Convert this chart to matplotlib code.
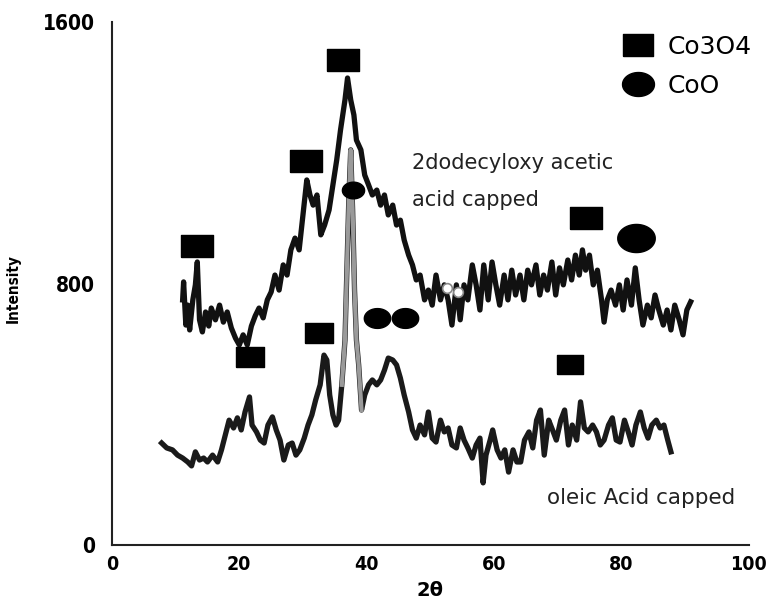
import numpy as np
import matplotlib
matplotlib.use("Agg")
from matplotlib import pyplot as plt
from matplotlib.lines import Line2D

# 2dodecyloxy acetic acid capped pattern (2theta, intensity)
top_trace = [
    (11.1, 750), (11.25, 805), (11.6, 673), (11.9, 734), (12.2, 658), (12.7, 750),
    (13.1, 796), (13.4, 866), (13.75, 689), (14.2, 652), (14.7, 713), (15.2, 670),
    (15.6, 725), (16.25, 689), (16.9, 734), (17.5, 682), (18.1, 713), (18.75, 664),
    (19.4, 633), (20.0, 612), (20.6, 643), (21.25, 612), (21.9, 670), (22.5, 701),
    (23.1, 725), (23.75, 695), (24.4, 750), (25.0, 774), (25.6, 826), (26.25, 780),
    (26.9, 857), (27.5, 826), (28.1, 903), (28.75, 939), (29.4, 903), (30.0, 1010),
    (30.6, 1117), (31.1, 1071), (31.6, 1040), (32.2, 1071), (32.8, 949), (33.4, 979),
    (34.1, 1025), (34.7, 1102), (35.3, 1178), (35.9, 1270), (36.6, 1362), (37.0, 1429),
    (37.5, 1362), (38.0, 1316), (38.4, 1239), (39.1, 1209), (39.7, 1132), (40.3, 1102),
    (40.9, 1071), (41.6, 1086), (42.2, 1040), (42.8, 1071), (43.4, 1010), (44.1, 1040),
    (44.7, 979), (45.3, 994), (45.9, 933), (46.6, 887), (47.2, 857), (47.8, 811),
    (48.4, 826), (49.1, 750), (49.7, 780), (50.3, 734), (50.9, 826), (51.6, 750),
    (52.2, 796), (52.8, 750), (53.4, 673), (54.1, 796), (54.7, 689), (55.3, 796),
    (55.9, 750), (56.6, 857), (57.2, 796), (57.8, 719), (58.4, 857), (59.1, 750),
    (59.7, 866), (60.3, 796), (60.9, 734), (61.6, 826), (62.2, 750), (62.8, 841),
    (63.4, 765), (64.1, 826), (64.7, 750), (65.3, 841), (65.9, 796), (66.6, 857),
    (67.2, 765), (67.8, 826), (68.4, 780), (69.1, 866), (69.7, 765), (70.3, 848),
    (70.9, 796), (71.6, 872), (72.2, 811), (72.8, 887), (73.4, 826), (73.9, 903),
    (74.4, 841), (75.0, 887), (75.6, 796), (76.25, 841), (76.9, 750), (77.3, 682),
    (77.8, 750), (78.4, 780), (79.1, 734), (79.7, 796), (80.3, 719), (80.9, 811),
    (81.6, 734), (82.2, 848), (82.8, 750), (83.4, 673), (84.1, 734), (84.7, 695),
    (85.3, 765), (85.9, 719), (86.6, 673), (87.2, 719), (87.8, 658), (88.4, 734),
    (89.1, 689), (89.7, 643), (90.3, 719), (90.9, 744),
]

# oleic acid capped pattern (2theta, intensity)
bottom_trace = [
    (7.8, 312), (8.6, 297), (9.5, 291), (10.3, 275), (11.1, 266), (11.9, 254),
    (12.5, 242), (13.1, 285), (13.75, 260), (14.4, 266), (15.0, 254), (15.8, 275),
    (16.6, 254), (17.2, 291), (17.8, 337), (18.4, 382), (19.1, 358), (19.7, 389),
    (20.3, 352), (20.9, 407), (21.6, 453), (22.0, 367), (22.7, 346), (23.3, 321),
    (23.9, 312), (24.5, 367), (25.2, 392), (25.8, 352), (26.4, 321), (27.0, 260),
    (27.7, 306), (28.3, 312), (28.9, 275), (29.5, 291), (30.2, 327), (30.8, 367),
    (31.4, 398), (32.0, 444), (32.7, 490), (33.3, 581), (33.75, 566), (34.2, 459),
    (34.7, 398), (35.2, 367), (35.6, 382), (36.1, 490), (36.6, 627), (36.9, 841),
    (37.2, 1056), (37.5, 1209), (37.8, 1025), (38.1, 780), (38.4, 627), (38.75, 551),
    (39.2, 413), (39.7, 459), (40.3, 490), (40.9, 505), (41.6, 490), (42.2, 505),
    (42.8, 535), (43.4, 572), (44.1, 566), (44.7, 551), (45.3, 511), (45.9, 459),
    (46.6, 407), (47.2, 352), (47.8, 327), (48.4, 367), (49.1, 337), (49.7, 407),
    (50.3, 327), (50.9, 315), (51.6, 382), (52.2, 346), (52.8, 358), (53.4, 306),
    (54.1, 297), (54.7, 358), (55.3, 321), (55.9, 297), (56.6, 266), (57.2, 306),
    (57.8, 327), (58.3, 190), (58.75, 275), (59.4, 321), (59.8, 352), (60.5, 291),
    (61.1, 266), (61.7, 291), (62.3, 223), (63.0, 291), (63.6, 254), (64.2, 254),
    (64.8, 321), (65.5, 346), (66.1, 297), (66.7, 382), (67.3, 413), (67.9, 275),
    (68.6, 382), (69.2, 352), (69.8, 321), (70.5, 382), (71.1, 413), (71.7, 306),
    (72.3, 367), (73.0, 321), (73.6, 438), (74.2, 358), (74.8, 346), (75.5, 367),
    (76.1, 346), (76.7, 306), (77.3, 321), (78.0, 367), (78.6, 389), (79.2, 321),
    (79.8, 315), (80.5, 382), (81.1, 346), (81.7, 306), (82.3, 367), (83.0, 407),
    (83.6, 358), (84.2, 327), (84.8, 367), (85.5, 382), (86.1, 358), (86.7, 367),
    (87.3, 321), (87.8, 285),
]

# phase markers (2theta, intensity)
co3o4_x = [13.3, 36.25, 30.5, 74.4, 21.7, 32.5, 71.9]
co3o4_y = [915, 1484, 1175, 1001, 575, 649, 554]
coo_x = [37.8, 41.7, 46.1, 82.3]
coo_y = [1086, 695, 695, 939]
hollow_x = [52.7, 54.4]
hollow_y = [786, 774]

x_ticks = [0, 20, 40, 60, 80, 100]
y_ticks = [0, 800, 1600]

rect = [(-1, -0.72), (1, -0.72), (1, 0.72), (-1, 0.72), (-1, -0.72)]
t = np.linspace(0, 2 * np.pi, 60)
ell = np.column_stack([np.cos(t), 0.75 * np.sin(t)])

fig = plt.figure(figsize=(7.67, 6.01), dpi=100)
ax = fig.add_axes([0.146, 0.0932, 0.830, 0.870])

tx, ty = np.array(top_trace).T
bx, by = np.array(bottom_trace).T

ax.plot(tx, ty, color="#111111", lw=3.8, solid_joinstyle="round")
ax.plot(bx, by, color="#1a1a1a", lw=3.8, solid_joinstyle="round")
spike = (bx >= 36.1) & (bx <= 39.2)
ax.plot(bx[spike], by[spike], color="#9a9a9a", lw=3.0, solid_joinstyle="round")

sq_sizes = [23, 23, 23, 23, 20, 20, 19]
for x, y, s in zip(co3o4_x, co3o4_y, sq_sizes):
    ax.plot(x, y, marker=rect, ms=s, color="black", ls="none", zorder=4)
circ_sizes = [16, 19, 19, 27]
for x, y, s in zip(coo_x, coo_y, circ_sizes):
    ax.plot(x, y, marker=ell, ms=s, color="black", ls="none", zorder=4)
ax.plot(hollow_x, hollow_y, marker="o", ms=7, mfc="white", mec="#888888",
        mew=1.2, ls="none", zorder=5)

ax.text(47.2, 1169, "2dodecyloxy acetic", fontsize=15, va="center", color="#222222")
ax.text(47.2, 1056, "acid capped", fontsize=15, va="center", color="#222222")
ax.text(68.4, 144, "oleic Acid capped", fontsize=15.5, va="center", color="#222222")

handles = [
    Line2D([], [], marker=rect, ms=22, color="black", ls="none"),
    Line2D([], [], marker=ell, ms=23, color="black", ls="none"),
]
ax.legend(handles, ["Co3O4", "CoO"], loc="upper left", bbox_to_anchor=(0.781, 1.0),
          frameon=False, fontsize=18, borderpad=0, handlelength=1.3,
          handletextpad=0.55, labelspacing=0.6)

ax.set_xlim(0, 100)
ax.set_ylim(0, 1600)
ax.set_xticks(x_ticks)
ax.set_yticks(y_ticks)
for lab in ax.get_yticklabels():
    lab.set_fontweight("bold")
    lab.set_fontsize(15)
    lab.set_fontstretch("condensed")
for lab in ax.get_xticklabels():
    lab.set_fontweight("bold")
    lab.set_fontsize(14)
    lab.set_fontstretch("condensed")
ax.tick_params(axis="y", length=0, pad=12)
ax.tick_params(axis="x", length=0, pad=7)

ax.set_xlabel("2θ", fontsize=14, fontweight="bold")
ax.xaxis.set_label_coords(0.50, -0.068)
ax.set_ylabel("Intensity", fontsize=11, fontweight="bold")
ax.yaxis.label.set_fontstretch("condensed")
ax.yaxis.set_label_coords(-0.144, 0.49)

for side in ["top", "right"]:
    ax.spines[side].set_visible(False)
for side in ["left", "bottom"]:
    ax.spines[side].set_linewidth(1.5)
    ax.spines[side].set_color("#222222")

plt.savefig("out.png", dpi=100)
